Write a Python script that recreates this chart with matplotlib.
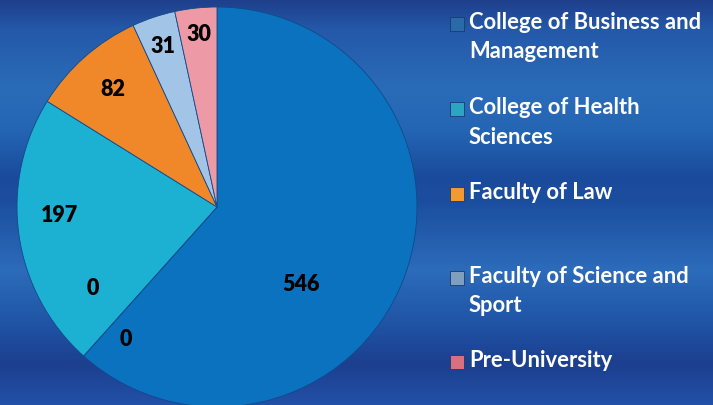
import numpy as np
import matplotlib
matplotlib.use('Agg')
import matplotlib.pyplot as plt
from matplotlib.colors import LinearSegmentedColormap
from matplotlib.patches import Rectangle

# slices, clockwise from 12 o'clock
values = [546, 0, 0, 197, 82, 31, 30]
slice_colors = ['#0b72bf', '#0b72bf', '#1cb0d2', '#1cb0d2', '#f0882a', '#a2c4e6', '#ee9aa6']

legend_names = ['College of Business and\nManagement', 'College of Health\nSciences',
                'Faculty of Law', 'Faculty of Science and\nSport', 'Pre-University']
legend_colors = ['#2a6aa8', '#2aa6c0', '#f09a30', '#7f9fc0', '#d87080']

# label placement (angle offset from wedge middle, fraction of radius)
label_shift = [-21.5, 7, -15, -5.5, 0, 0, 0]
label_dist = [0.57, 0.80, 0.74, 0.79, 0.79, 0.85, 0.87]

fig = plt.figure(figsize=(7.13, 4.06), dpi=100)

# background gradient
bg = fig.add_axes([0, 0, 1, 1])
stops = [(0.0, '#1e3f8c'), (0.07, '#2458a8'), (0.22, '#2a6cb8'), (0.32, '#2466b4'),
         (0.44, '#1a4a9c'), (0.5, '#1c4ea0'), (0.67, '#2c6cba'), (0.81, '#1f52a4'),
         (0.9, '#1c3f8e'), (1.0, '#2250a8')]
cmap = LinearSegmentedColormap.from_list('bg', stops)
grad = np.linspace(0, 1, 400).reshape(-1, 1)
bg.imshow(grad, aspect='auto', cmap=cmap, extent=[0, 1, 0, 1], origin='upper')
bg.set_xlim(0, 1)
bg.set_ylim(0, 1)
bg.axis('off')

W, H = 713, 406
cx, cy, r = 217, 208, 200
ax = fig.add_axes([(cx - r) / W, (H - cy - r) / H, 2 * r / W, 2 * r / H])
wedges, _ = ax.pie(values, colors=slice_colors, startangle=90, counterclock=False,
                   radius=1, wedgeprops=dict(edgecolor='#104a88', linewidth=0.6))
ax.set_xlim(-1, 1)
ax.set_ylim(-1, 1)
ax.axis('off')

for w, v, sh, d in zip(wedges, values, label_shift, label_dist):
    ang = np.deg2rad((w.theta1 + w.theta2) / 2 + sh)
    ax.text(d * np.cos(ang), d * np.sin(ang), str(v), ha='center', va='center',
            fontsize=15.5, fontweight='heavy', family='Lato', color='black')

# legend
ys = [25, 110, 195, 279, 363]
for name, col, y in zip(legend_names, legend_colors, ys):
    fig.patches.append(Rectangle(((450) / W, 1 - (y + 7) / H), 14 / W, 14 / H,
                                 transform=fig.transFigure, facecolor=col,
                                 edgecolor='#1a3a70', linewidth=0.6))
    fig.text(469 / W, 1 - (y - 13) / H, name, ha='left', va='top', color='white',
             fontsize=15.8, fontweight='bold', family='Lato', linespacing=1.5)

fig.savefig('out.png', dpi=100)
